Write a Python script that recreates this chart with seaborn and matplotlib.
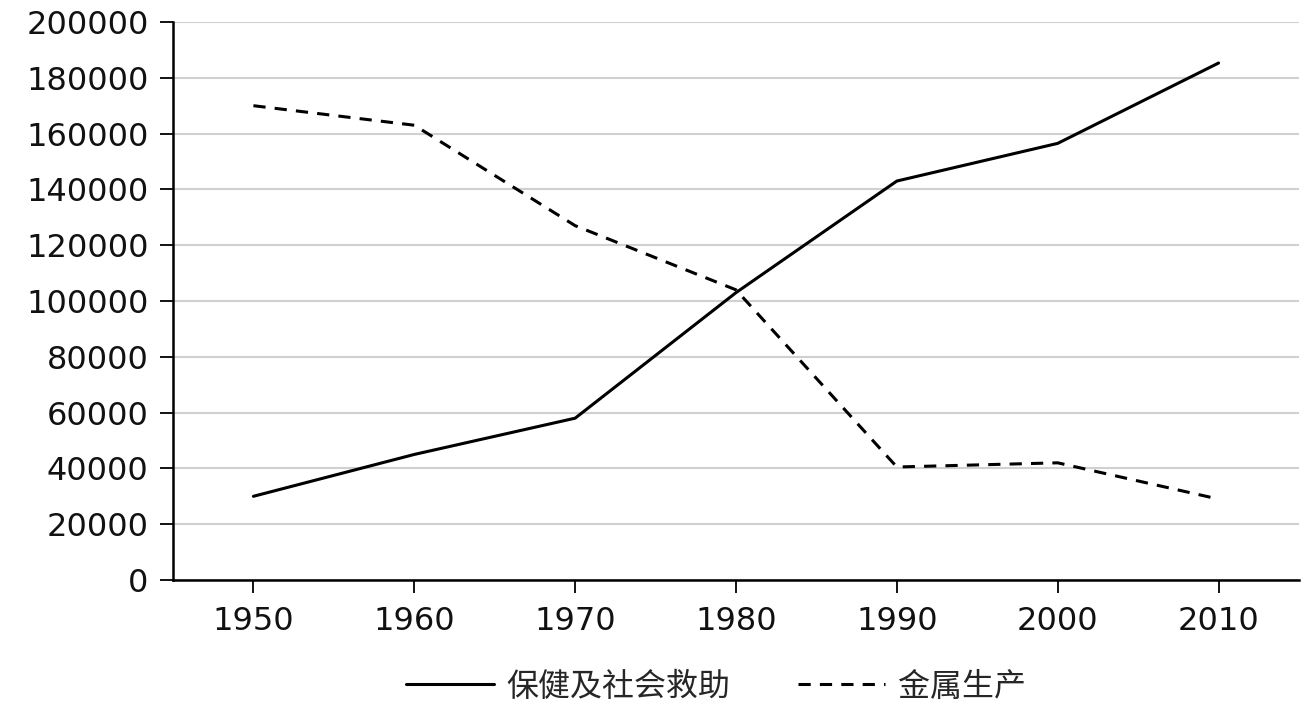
import matplotlib
matplotlib.use("Agg")
import matplotlib.pyplot as plt
import seaborn as sns
import pandas as pd
from matplotlib.lines import Line2D

years = [1950, 1960, 1970, 1980, 1990, 2000, 2010]
health = [30000, 45000, 58000, 103000, 143000, 156500, 185300]
metal = [170000, 163000, 127000, 104000, 40500, 42000, 29000]
series_names = ["保健及社会救助", "金属生产"]
yticks = list(range(0, 200001, 20000))

sns.set_theme(style="white")
plt.rcParams['font.family'] = ['DejaVu Sans', 'Noto Sans CJK SC']

df = pd.DataFrame({
    "year": years * 2,
    "value": health + metal,
    "series": [series_names[0]] * len(years) + [series_names[1]] * len(years),
})

fig = plt.figure(figsize=(13.12, 7.10), dpi=100)
ax = fig.add_axes([173/1312, 1 - 580/710, (1299-173)/1312, (580-22)/710])

sns.lineplot(data=df, x="year", y="value", style="series", color="black",
             dashes={series_names[0]: "", series_names[1]: (4, 3)},
             linewidth=2.2, ax=ax, legend=False, estimator=None)

ax.set_xlim(1945, 2015)
ax.set_ylim(0, 200000)
ax.set_xticks(years)
ax.set_yticks(yticks)
ax.set_yticklabels([str(v) for v in yticks])
ax.yaxis.grid(True, color="#d0d0d0", linewidth=1.5)
ax.set_axisbelow(True)
for s in ["top", "right"]:
    ax.spines[s].set_visible(False)
for s in ["left", "bottom"]:
    ax.spines[s].set_color("black")
    ax.spines[s].set_linewidth(1.8)
ax.tick_params(axis="both", which="both", direction="out", length=9.5, width=1.3,
               color="black", labelsize=23, labelcolor="#111111",
               left=True, bottom=True)
ax.tick_params(axis="y", pad=8)
ax.tick_params(axis="x", pad=9)
ax.set_xlabel("")
ax.set_ylabel("")

handles = [Line2D([], [], color="black", lw=2.2, linestyle="-"),
           Line2D([], [], color="black", lw=2.2, linestyle=(0, (4, 3)))]
fig.legend(handles, series_names, loc="center", bbox_to_anchor=(716/1312, 23/710),
           ncol=2, frameon=False, fontsize=23, handlelength=2.75, columnspacing=2.1,
           handletextpad=0.4)

fig.savefig("out.png", dpi=100)
